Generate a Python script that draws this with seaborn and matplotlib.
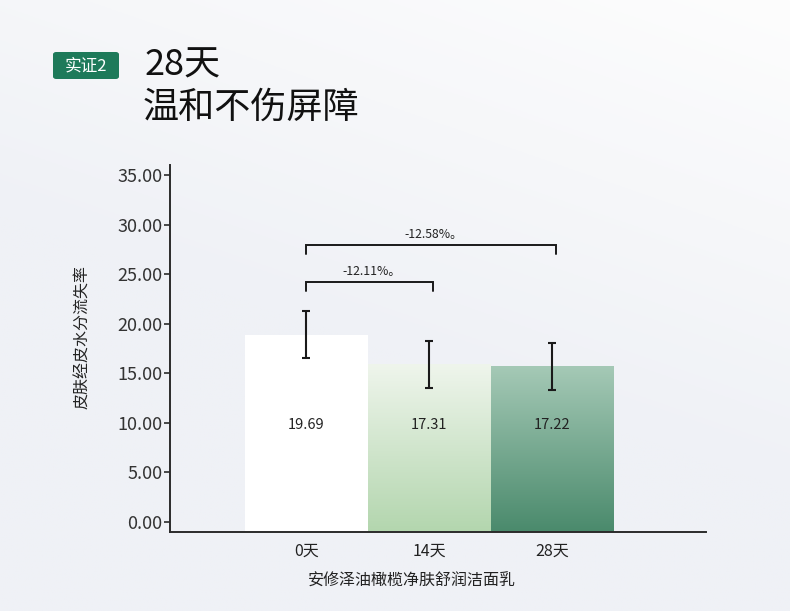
import numpy as np
import pandas as pd
import matplotlib
matplotlib.use('Agg')
import matplotlib.pyplot as plt
from matplotlib.patches import FancyBboxPatch
from matplotlib.colors import to_rgb
import seaborn as sns

# 数据
days = ['0天', '14天', '28天']
bar_heights = [18.9, 15.9, 15.7]          # 图中柱子实际高度
err_half = [2.4, 2.4, 2.4]                 # 误差线半长
value_labels = ['19.69', '17.31', '17.22']  # 柱内标注的数值
y_ticks = [0, 5, 10, 15, 20, 25, 30, 35]
brackets = [(0, 1, 24.2, '-12.11%。'), (0, 2, 27.9, '-12.58%。')]

top_colors = ['#ffffff', '#eff5ec', '#a5c9b6']
bottom_colors = ['#ffffff', '#b3d6ae', '#4a8a6c']

sns.set_theme(style='white')
plt.rcParams['font.family'] = ['Noto Sans CJK SC', 'DejaVu Sans']
plt.rcParams['axes.unicode_minus'] = False

fig = plt.figure(figsize=(7.9, 6.11), dpi=100)

# 背景渐变
bg = fig.add_axes([0, 0, 1, 1], zorder=-10)
X, Y = np.meshgrid(np.linspace(0, 1, 400), np.linspace(0, 1, 300))
d = Y - 0.45 * X
w = np.clip((0.35 - d) / 0.8, 0, 1)[..., None]
c_lo = np.array([239, 241, 246]) / 255
c_hi = np.array([253, 253, 253]) / 255
bg.imshow(c_lo * (1 - w) + c_hi * w, aspect='auto', extent=[0, 1, 0, 1], origin='upper')
bg.set_axis_off()

ax = fig.add_axes([170 / 790, 79 / 611, 536 / 790, 367 / 611])
ax.set_facecolor('none')

df = pd.DataFrame({'day': days, 'value': bar_heights})
sns.barplot(data=df, x='day', y='value', hue='day', palette=bottom_colors,
            legend=False, width=1.0, errorbar=None, ax=ax, linewidth=0)

# 柱子延伸到坐标轴，并加渐变
for p, tc, bc in zip(ax.patches, top_colors, bottom_colors):
    p.set_y(-1.0)
    p.set_height(p.get_height() + 1.0)
    x0, y0 = p.get_x(), p.get_y()
    x1, y1 = x0 + p.get_width(), y0 + p.get_height()
    t = np.linspace(0, 1, 256)[:, None, None]
    grad = np.array(to_rgb(tc)) * (1 - t) + np.array(to_rgb(bc)) * t
    im = ax.imshow(grad, extent=[x0, x1, y0, y1], aspect='auto', origin='upper', zorder=2)
    im.set_clip_path(p)

ax.set_xlim(-1.11, 3.25)
ax.set_ylim(-1.0, 36.0)

xs = np.arange(len(days))
ax.errorbar(xs, bar_heights, yerr=err_half, fmt='none', ecolor='#1a1a1a',
            elinewidth=1.5, capsize=2.8, capthick=1.5, zorder=4)

for x, lab in zip(xs, value_labels):
    ax.text(x, 9.8, lab, ha='center', va='center', fontsize=10.5, color='#222222', zorder=5)

for a, b, yb, lab in brackets:
    ax.plot([a, a, b + 0.03, b + 0.03], [yb - 0.9, yb, yb, yb - 0.9],
            color='#1a1a1a', lw=1.4, zorder=4, solid_joinstyle='miter')
    ax.text((a + b + 0.03) / 2 + 0.02, yb + 1.1, lab,
            ha='center', va='center', fontsize=8.8, color='#222222')

# 坐标轴样式
sns.despine(ax=ax)
for s in ['left', 'bottom']:
    ax.spines[s].set_color('#2b2b2b')
    ax.spines[s].set_linewidth(1.4)
ax.set_yticks(y_ticks)
ax.set_yticklabels([f'{v:.2f}' for v in y_ticks])
ax.tick_params(axis='y', length=4.5, width=1.2, color='#2b2b2b', pad=1,
               labelsize=13, labelcolor='#333333', left=True)
ax.tick_params(axis='x', length=0, pad=8, labelsize=11.5, labelcolor='#222222')

ax.set_xlabel('安修泽油橄榄净肤舒润洁面乳', fontsize=11.5, color='#222222')
ax.xaxis.label.set_va('center')
ax.xaxis.set_label_coords(0.4515, -0.1335)
ax.set_ylabel('皮肤经皮水分流失率', fontsize=11.5, color='#222222')
ax.yaxis.label.set_va('center')
ax.yaxis.set_label_coords(-0.1623, 0.531)

# 标题区
badge = FancyBboxPatch((53 / 790, 1 - 79 / 611), 66 / 790, 27 / 611,
                       boxstyle='round,pad=0,rounding_size=0.004',
                       transform=fig.transFigure, facecolor='#1e7a5a',
                       edgecolor='none', zorder=5)
fig.patches.append(badge)
fig.text(86 / 790, 1 - 66 / 611, '实证2', ha='center', va='center',
         fontsize=12, color='white', zorder=6)
fig.text(145 / 790, 1 - 66 / 611, '28天', ha='left', va='center',
         fontsize=26, color='#111111', fontweight='light')
fig.text(143 / 790, 1 - 108 / 611, '温和不伤屏障', ha='left', va='center',
         fontsize=26, color='#111111', fontweight='light')

fig.savefig('out.png', dpi=100)
